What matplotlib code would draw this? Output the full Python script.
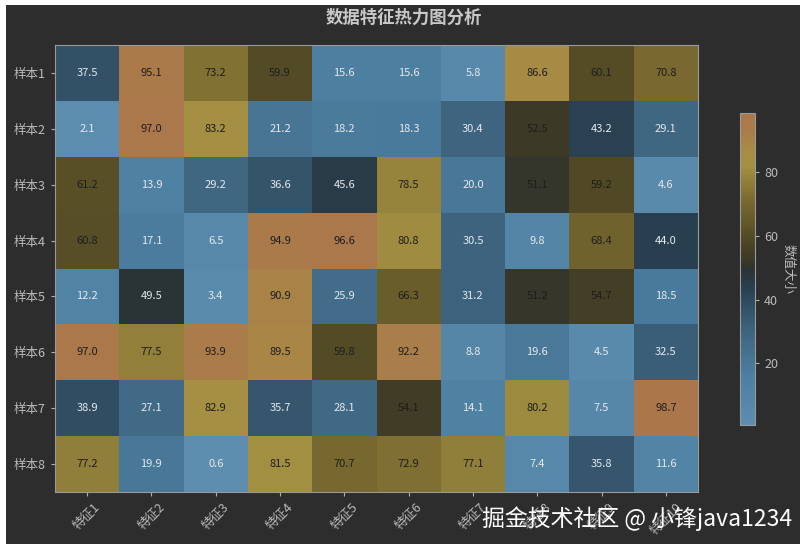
import numpy as np
import matplotlib
matplotlib.use("Agg")
import matplotlib.pyplot as plt
from matplotlib.colors import LinearSegmentedColormap, Normalize
from matplotlib.patches import Rectangle

plt.rcParams['font.family'] = ['Noto Sans CJK SC', 'DejaVu Sans']
plt.rcParams['axes.unicode_minus'] = False

rows = ["样本1", "样本2", "样本3", "样本4", "样本5", "样本6", "样本7", "样本8"]
cols = ["特征1", "特征2", "特征3", "特征4", "特征5", "特征6", "特征7", "特征8", "特征9", "特征10"]

row1 = [37.5, 95.1, 73.2, 59.9, 15.6, 15.6, 5.8, 86.6, 60.1, 70.8]
row2 = [2.1, 97.0, 83.2, 21.2, 18.2, 18.3, 30.4, 52.5, 43.2, 29.1]
row3 = [61.2, 13.9, 29.2, 36.6, 45.6, 78.5, 20.0, 51.1, 59.2, 4.6]
row4 = [60.8, 17.1, 6.5, 94.9, 96.6, 80.8, 30.5, 9.8, 68.4, 44.0]
row5 = [12.2, 49.5, 3.4, 90.9, 25.9, 66.3, 31.2, 51.2, 54.7, 18.5]
row6 = [97.0, 77.5, 93.9, 89.5, 59.8, 92.2, 8.8, 19.6, 4.5, 32.5]
row7 = [38.9, 27.1, 82.9, 35.7, 28.1, 54.1, 14.1, 80.2, 7.5, 98.7]
row8 = [77.2, 19.9, 0.6, 81.5, 70.7, 72.9, 77.1, 7.4, 35.8, 11.6]

data = np.array([row1, row2, row3, row4, row5, row6, row7, row8])

cbar_ticks = [20, 40, 60, 80]

bg = "#2d2d2d"
vmin, vmax = data.min(), data.max()

anchors = [
    (0.6, "#5d8eb0"),
    (15, "#4e80a2"),
    (30, "#3e6580"),
    (44, "#283f4f"),
    (49.5, "#2a3335"),
    (52, "#3a3826"),
    (57, "#4a4224"),
    (63, "#5e5428"),
    (72, "#7c6c31"),
    (82, "#a39042"),
    (88, "#a88a45"),
    (93, "#aa7d4a"),
    (98.7, "#ac764b"),
]
cmap = LinearSegmentedColormap.from_list(
    "custom", [((v - vmin) / (vmax - vmin), c) for v, c in anchors])
norm = Normalize(vmin=vmin, vmax=vmax)

fig = plt.figure(figsize=(8.08, 5.5), dpi=100)
fig.patch.set_facecolor("white")
fig.add_artist(Rectangle((6/808, 6/550), 794/808, 539/550, transform=fig.transFigure,
                         facecolor=bg, edgecolor="none", zorder=-10))

ax = fig.add_axes([55/808, 1 - 492/550, 643/808, 447/550])
ax.set_facecolor(bg)
mesh = ax.pcolormesh(data, cmap=cmap, norm=norm)
ax.set_xlim(0, len(cols))
ax.set_ylim(len(rows), 0)

for i in range(data.shape[0]):
    for j in range(data.shape[1]):
        v = data[i, j]
        color = "#1e1e1e" if v > 50 else "#e4e8ee"
        ax.text(j + 0.5, i + 0.5, f"{v:.1f}", ha="center", va="center",
                fontsize=8, color=color)

ax.set_xticks(np.arange(len(cols)) + 0.5)
ax.set_xticklabels(cols, rotation=45, ha="center")
ax.set_yticks(np.arange(len(rows)) + 0.5)
ax.set_yticklabels(rows, rotation=0)
ax.tick_params(colors="#b0b0b0", labelsize=9, length=3)
for lab in ax.get_xticklabels() + ax.get_yticklabels():
    lab.set_color("#bbbbbb")
for s in ax.spines.values():
    s.set_color("#9a9a9a")
    s.set_linewidth(0.8)

fig.text(0.5, 1 - 18/550, "数据特征热力图分析", ha="center", va="center",
         fontsize=12.5, fontweight="bold", color="#c8c8c8")

cax = fig.add_axes([740/808, 1 - 425/550, 15/808, 312/550])
cb = fig.colorbar(mesh, cax=cax, ticks=cbar_ticks)
cb.outline.set_edgecolor("#9a9a9a")
cb.outline.set_linewidth(0.8)
cax.tick_params(colors="#b0b0b0", labelsize=9, length=3)
for lab in cax.get_yticklabels():
    lab.set_color("#bbbbbb")
cb.set_label("数值大小", rotation=270, labelpad=12, color="#bbbbbb", fontsize=9)

fig.text(792/808, 1 - 519/550, "掘金技术社区 @ 小锋java1234", ha="right", va="center",
         fontsize=16.5, color="white")

fig.savefig("out.png", dpi=100, facecolor=fig.get_facecolor())
